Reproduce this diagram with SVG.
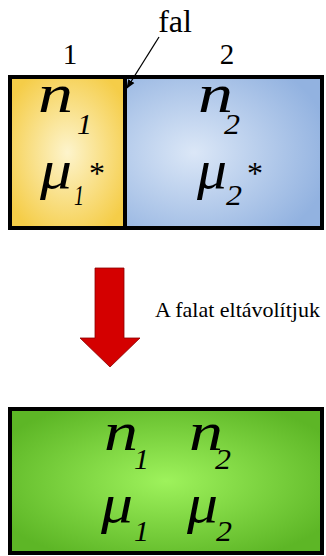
<svg xmlns="http://www.w3.org/2000/svg" width="326" height="556" viewBox="0 0 326 556">
<defs>
<radialGradient id="gy" cx="0.5" cy="0.5" r="0.6">
<stop offset="0" stop-color="#fdf4cc"/>
<stop offset="1" stop-color="#f5cd48"/>
</radialGradient>
<radialGradient id="gb" cx="0.35" cy="0.5" r="0.7">
<stop offset="0" stop-color="#dbe7f7"/>
<stop offset="1" stop-color="#92b2e0"/>
</radialGradient>
<radialGradient id="gg" cx="0.5" cy="0.5" r="0.6">
<stop offset="0" stop-color="#9ef25c"/>
<stop offset="1" stop-color="#5db626"/>
</radialGradient>
<marker id="ah" viewBox="0 0 10 10" refX="9" refY="5" markerWidth="7" markerHeight="7" orient="auto">
<path d="M0,1 L10,5 L0,9 z" fill="#000"/>
</marker>
</defs>
<style>
text{font-family:'Liberation Serif','DejaVu Serif',serif;fill:#000}
.sym{font-style:italic;font-size:54px}
.sub{font-style:italic;font-size:30px}
.box{stroke:#000;stroke-width:4}
</style>
<g id="labels">
<text x="175" y="32" font-size="32" text-anchor="middle">fal</text>
<text x="70" y="64" font-size="29" text-anchor="middle">1</text>
<text x="227" y="64" font-size="29" text-anchor="middle">2</text>
<text x="155" y="317" font-size="22">A falat eltávolítjuk</text>
</g>
<g id="compartment1">
<rect class="box" x="10" y="77" width="115" height="151" fill="url(#gy)"/>
<text class="sym" x="38" y="112" textLength="35" lengthAdjust="spacingAndGlyphs">n</text>
<text class="sub" x="77" y="134">1</text>
<text class="sym" x="40" y="188" textLength="32" lengthAdjust="spacingAndGlyphs">μ</text>
<text class="sub" x="74" y="205" textLength="10" lengthAdjust="spacingAndGlyphs">1</text>
<text x="89" y="184" font-size="32">*</text>
</g>
<g id="compartment2">
<rect class="box" x="125" y="77" width="197" height="151" fill="url(#gb)"/>
<text class="sym" x="198" y="112" textLength="35" lengthAdjust="spacingAndGlyphs">n</text>
<text class="sub" x="224" y="134" textLength="16" lengthAdjust="spacingAndGlyphs">2</text>
<text class="sym" x="197" y="188" textLength="30" lengthAdjust="spacingAndGlyphs">μ</text>
<text class="sub" x="226" y="205" textLength="16" lengthAdjust="spacingAndGlyphs">2</text>
<text x="247" y="184" font-size="32">*</text>
</g>
<g id="mixed">
<rect class="box" x="10" y="409" width="312" height="144" fill="url(#gg)"/>
<text class="sym" x="104" y="450" textLength="34" lengthAdjust="spacingAndGlyphs">n</text>
<text class="sub" x="134" y="469">1</text>
<text class="sym" x="189" y="450" textLength="34" lengthAdjust="spacingAndGlyphs">n</text>
<text class="sub" x="215" y="469" textLength="16" lengthAdjust="spacingAndGlyphs">2</text>
<text class="sym" x="101" y="522" textLength="32" lengthAdjust="spacingAndGlyphs">μ</text>
<text class="sub" x="134" y="541">1</text>
<text class="sym" x="187" y="522" textLength="31" lengthAdjust="spacingAndGlyphs">μ</text>
<text class="sub" x="216" y="541" textLength="16" lengthAdjust="spacingAndGlyphs">2</text>
</g>
<g id="connectors">
<line x1="159" y1="37" x2="127" y2="88" stroke="#000" stroke-width="1.3" marker-end="url(#ah)"/>
<path d="M95,268 H124 V338 H140 L110,367 L80,338 H95 Z" fill="#d40000" stroke="#8a0000" stroke-width="0.8"/>
</g>
</svg>
